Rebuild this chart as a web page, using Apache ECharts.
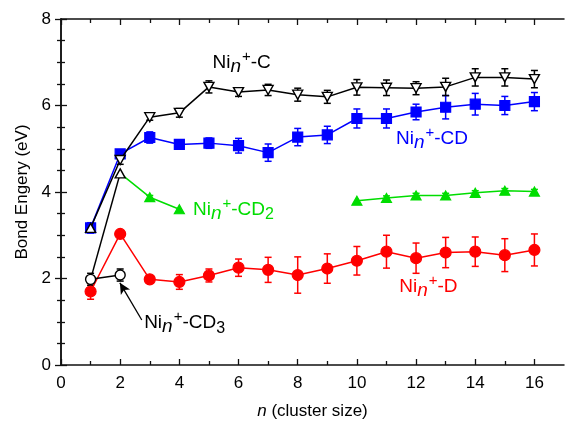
<!DOCTYPE html>
<html>
<head>
<meta charset="utf-8">
<script src="https://cdn.jsdelivr.net/npm/echarts@6/dist/echarts.min.js"></script>
<style>
  html, body { margin: 0; padding: 0; background: #fff; }
  #chart { width: 566px; height: 426px; }
</style>
</head>
<body>
<div id="chart"></div>
<script>
// Cluster sizes n
const clusterSize = [1, 2, 3, 4, 5, 6, 7, 8, 9, 10, 11, 12, 13, 14, 15, 16];

// Ni_n+-D bond energies (eV) and uncertainties
const dEnergy = [1.70, 3.03, 1.98, 1.92, 2.07, 2.25, 2.20, 2.08, 2.23, 2.41, 2.62, 2.47, 2.60, 2.62, 2.54, 2.66];
const dError  = [0.18, 0.07, 0.05, 0.17, 0.15, 0.20, 0.29, 0.42, 0.34, 0.33, 0.38, 0.35, 0.35, 0.34, 0.38, 0.37];

// Ni_n+-CD
const cdEnergy = [3.17, 4.88, 5.26, 5.10, 5.13, 5.07, 4.91, 5.27, 5.32, 5.70, 5.70, 5.85, 5.96, 6.03, 6.00, 6.09];
const cdError  = [0.12, 0.08, 0.13, 0.10, 0.12, 0.17, 0.20, 0.20, 0.20, 0.22, 0.22, 0.18, 0.27, 0.25, 0.21, 0.21];

// Ni_n+-C
const cEnergy = [3.17, 4.74, 5.73, 5.83, 6.43, 6.31, 6.36, 6.25, 6.20, 6.42, 6.41, 6.40, 6.43, 6.65, 6.65, 6.61];
const cError  = [0, 0.10, 0.07, 0.10, 0.14, 0.10, 0.13, 0.15, 0.15, 0.18, 0.18, 0.15, 0.20, 0.20, 0.20, 0.20];

// Ni_n+-CD2 (null = not measured)
const cd2Energy = [1.98, 4.43, 3.88, 3.60, null, null, null, null, null, 3.80, 3.86, 3.92, 3.92, 3.98, 4.03, 4.01];
const cd2Error  = [0, 0, 0.04, 0, null, null, null, null, null, 0, 0.05, 0.05, 0.05, 0.05, 0.05, 0.05];

// Ni_n+-CD3
const cd3Energy = [1.98, 2.08];
const cd3Error  = [0.14, 0.14];

// Axis ticks
const xMajorTicks = [0, 2, 4, 6, 8, 10, 12, 14, 16];
const xMinorTicks = [1, 3, 5, 7, 9, 11, 13, 15];

const FONT = 'Liberation Sans, Arial, Helvetica, sans-serif';
const BLACK = '#000000';
const BLUE = '#0000ff';
const RED = '#ff0000';
const GREEN = '#00dd00';

const chart = echarts.init(document.getElementById('chart'), null, { renderer: 'canvas' });

function pairs(values) {
  return values.map((v, i) => (v == null ? null : [clusterSize[i], v]));
}

function errorBars(values, errors, color) {
  const data = [];
  values.forEach((v, i) => {
    if (v != null && errors[i]) data.push([clusterSize[i], v - errors[i], v + errors[i]]);
  });
  return {
    type: 'custom',
    silent: true,
    z: 1,
    data,
    encode: { x: 0, y: [1, 2] },
    renderItem(params, api) {
      const x = api.value(0);
      const lo = api.coord([x, api.value(1)]);
      const hi = api.coord([x, api.value(2)]);
      const w = 3.5;
      const style = { stroke: color, lineWidth: 1.5, fill: null };
      return {
        type: 'group',
        children: [
          { type: 'line', shape: { x1: lo[0], y1: lo[1], x2: hi[0], y2: hi[1] }, style },
          { type: 'line', shape: { x1: lo[0] - w, y1: lo[1], x2: lo[0] + w, y2: lo[1] }, style },
          { type: 'line', shape: { x1: hi[0] - w, y1: hi[1], x2: hi[0] + w, y2: hi[1] }, style }
        ]
      };
    }
  };
}

function lineSeries(data, color, symbol, opts) {
  return Object.assign({
    type: 'line',
    z: 3,
    data,
    symbol,
    symbolSize: 10,
    connectNulls: false,
    animation: false,
    lineStyle: { color, width: 1.5 },
    itemStyle: { color, borderColor: color, borderWidth: 1.2 }
  }, opts || {});
}

// D
const dSeries = lineSeries(pairs(dEnergy), RED, 'circle', { symbolSize: 11 });

// CD
const cdSeries = lineSeries(pairs(cdEnergy), BLUE, 'rect', { symbolSize: 10 });

// C: open down-triangles, first point an open up-triangle
const cData = pairs(cEnergy).map((p, i) => (i === 0
  ? { value: p, symbol: 'triangle', symbolRotate: 0 }
  : { value: p }));
const cSeries = lineSeries(cData, BLACK, 'triangle', {
  z: 5,
  symbolSize: [10, 9],
  symbolRotate: 180,
  itemStyle: { color: '#ffffff', borderColor: BLACK, borderWidth: 1.4 }
});

// CD2: black lead-in segment (n = 1, 2) followed by green segments
const cd2Lead = lineSeries(
  [{ value: [clusterSize[0], cd2Energy[0]], symbol: 'none' },
   { value: [clusterSize[1], cd2Energy[1]] }],
  BLACK, 'triangle', {
    z: 5,
    symbolSize: [10, 9],
    itemStyle: { color: '#ffffff', borderColor: BLACK, borderWidth: 1.4 }
  });

const cd2Green = pairs(cd2Energy).map((p, i) => {
  if (i === 0) return null;
  if (p == null) return '-';
  return i === 1 ? { value: p, symbol: 'none' } : { value: p };
}).filter(p => p !== null);
const cd2Series = lineSeries(cd2Green, GREEN, 'triangle', { symbolSize: [10, 9], z: 4 });

// CD3: open circles with arrow pointing at them
const cd3Series = lineSeries(pairs(cd3Energy), BLACK, 'circle', {
  z: 6,
  symbolSize: 10,
  itemStyle: { color: '#ffffff', borderColor: BLACK, borderWidth: 1.4 },
  markLine: {
    silent: true,
    animation: false,
    symbol: ['none', 'arrow'],
    symbolSize: [8, 11],
    label: { show: false },
    lineStyle: { color: BLACK, width: 1.3, type: 'solid' },
    data: [[{ coord: [2.73, 1.04] }, { coord: [1.99, 1.90] }]]
  }
});

const axisLine = { show: true, lineStyle: { color: '#111', width: 1.5 } };
const tickLine = { color: '#111', width: 1.3 };

function xAxisDef(position, ticks, len, withLabels) {
  return {
    type: 'value', min: 0, max: 17, position,
    axisLine: withLabels || len === 6 ? axisLine : { show: false },
    axisTick: { show: true, inside: true, length: len, customValues: ticks, lineStyle: tickLine },
    axisLabel: withLabels
      ? { show: true, customValues: ticks, fontSize: 17, color: '#000', fontFamily: FONT, margin: 10 }
      : { show: false },
    splitLine: { show: false }
  };
}

const xBottom = xAxisDef('bottom', xMajorTicks, 6, true);
xBottom.name = '{i|n} (cluster size)';
xBottom.nameLocation = 'middle';
xBottom.nameGap = 38;
xBottom.nameTextStyle = {
  fontSize: 17, color: '#000', fontFamily: FONT,
  rich: { i: { fontSize: 17, fontStyle: 'italic', color: '#000', fontFamily: FONT } }
};

function yAxisDef(position, withLabels) {
  return {
    type: 'value', min: 0, max: 8, interval: 2, position,
    axisLine,
    axisTick: { show: true, inside: true, length: 6, lineStyle: tickLine },
    minorTick: { show: true, splitNumber: 4, length: 4, lineStyle: tickLine },
    axisLabel: withLabels
      ? { show: true, fontSize: 17, color: '#000', fontFamily: FONT, margin: 10 }
      : { show: false },
    splitLine: { show: false },
    minorSplitLine: { show: false }
  };
}
const yLeft = yAxisDef('left', true);
yLeft.name = 'Bond Engery (eV)';
yLeft.nameLocation = 'middle';
yLeft.nameGap = 29;
yLeft.nameTextStyle = { fontSize: 17, color: '#000', fontFamily: FONT };

chart.setOption({
  animation: false,
  backgroundColor: '#ffffff',
  grid: { left: 61, right: 2, top: 19, bottom: 61, containLabel: false },
  xAxis: [
    xBottom,
    xAxisDef('bottom', xMinorTicks, 4, false),
    xAxisDef('top', xMajorTicks, 6, false),
    xAxisDef('top', xMinorTicks, 4, false)
  ],
  yAxis: [yLeft, yAxisDef('right', false)],
  series: [
    errorBars(dEnergy, dError, RED),
    errorBars(cdEnergy, cdError, BLUE),
    errorBars(cEnergy, cError, BLACK),
    errorBars(cd2Energy, cd2Error, GREEN),
    errorBars(cd3Energy, cd3Error, BLACK),
    cd2Series,
    dSeries,
    cdSeries,
    cSeries,
    cd2Lead,
    cd3Series
  ]
});

// Series labels, anchored at data coordinates (top-left of text)
const seriesLabels = [
  { tail: '-C',  sub: '',  n: 5.12,  e: 7.30, color: BLACK },
  { tail: '-CD', sub: '',  n: 11.32, e: 5.54, color: BLUE },
  { tail: '-CD', sub: '2', n: 4.46,  e: 3.91, color: GREEN },
  { tail: '-D',  sub: '',  n: 11.43, e: 2.12, color: RED },
  { tail: '-CD', sub: '3', n: 2.81,  e: 1.29, color: BLACK }
];

function richFor(color) {
  return {
    m: { fontSize: 19, fontFamily: FONT, fill: color, padding: [4, 0, 0, 0], verticalAlign: 'top' },
    i: { fontSize: 19, fontFamily: FONT, fontStyle: 'italic', fill: color, padding: [8, 0, 0, 0], verticalAlign: 'top' },
    p: { fontSize: 15, fontFamily: FONT, fill: color, padding: [0, 0, 0, 1], verticalAlign: 'top' },
    s: { fontSize: 16, fontFamily: FONT, fill: color, padding: [11, 0, 0, 0], verticalAlign: 'top' }
  };
}

const graphics = seriesLabels.map(lb => {
  const pt = chart.convertToPixel({ xAxisIndex: 0, yAxisIndex: 0 }, [lb.n, lb.e]);
  let text = '{m|Ni}{i|n}{p|+}{m|' + lb.tail + '}';
  if (lb.sub) text += '{s|' + lb.sub + '}';
  return {
    type: 'text',
    x: pt[0],
    y: pt[1],
    silent: true,
    z: 100,
    style: {
      text,
      rich: richFor(lb.color),
      fill: lb.color,
      fontFamily: FONT,
      fontSize: 19,
      align: 'left',
      verticalAlign: 'top'
    }
  };
});

chart.setOption({ graphic: graphics });
</script>
</body>
</html>
